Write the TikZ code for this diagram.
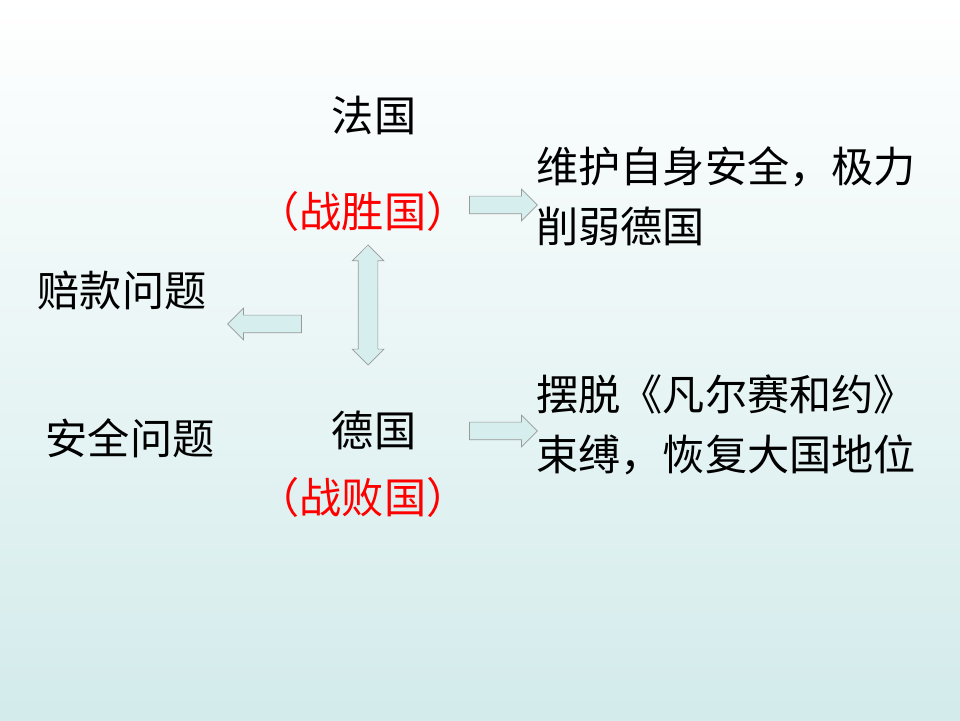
\documentclass[tikz,border=0pt]{standalone}
\usepackage{fontspec}
\newfontfamily\cjk{Noto Sans CJK SC}
\usetikzlibrary{shapes.arrows}
\definecolor{arrowfill}{HTML}{D6EEEE}
\definecolor{bgbottom}{HTML}{D3EBEB}
\tikzset{
  txt/.style={font=\cjk\fontsize{24}{34}\selectfont, inner sep=0pt},
  redtxt/.style={txt, text=red},
  blockarrow/.style={single arrow, draw=gray!80, fill=arrowfill, inner sep=0.17cm,
    single arrow head extend=0.14cm, minimum height=1.36cm},
  twoarrow/.style={double arrow, draw=gray!80, fill=arrowfill, inner sep=0.19cm,
    double arrow head extend=0.12cm, minimum height=2.4cm, shape border rotate=90}
}
\begin{document}
\begin{tikzpicture}
    \shade[top color=white, bottom color=bgbottom] (0,0) rectangle (19.2,14.4);
    \useasboundingbox (0,0) rectangle (19.2,14.4);
    % countries
    \node[txt] (fr) at (7.48,12.1) {法国};
    \node[redtxt] (win) at (7.26,10.18) {（战胜国）};
    \node[txt] (de) at (7.48,5.8) {德国};
    \node[redtxt] (lose) at (7.26,4.46) {（战败国）};
    % issues
    \node[txt] (pay) at (2.44,8.6) {赔款问题};
    \node[txt] (safe) at (2.6,5.64) {安全问题};
    % aims
    \node[txt, anchor=west, align=left] (aimfr) at (10.72,10.48) {维护自身安全，极力\\削弱德国};
    \node[txt, anchor=west, align=left] (aimde) at (10.72,5.9) {摆脱《凡尔赛和约》\\束缚，恢复大国地位};
    % arrows
    \node[blockarrow] (a1) at (9.98,10.3) {};
    \node[blockarrow] (a2) at (9.98,5.78) {};
    \node[blockarrow, shape border rotate=180, minimum height=1.48cm] (a3) at (5.38,7.92) {};
    \node[twoarrow] (a4) at (7.36,8.3) {};
\end{tikzpicture}
\end{document}
